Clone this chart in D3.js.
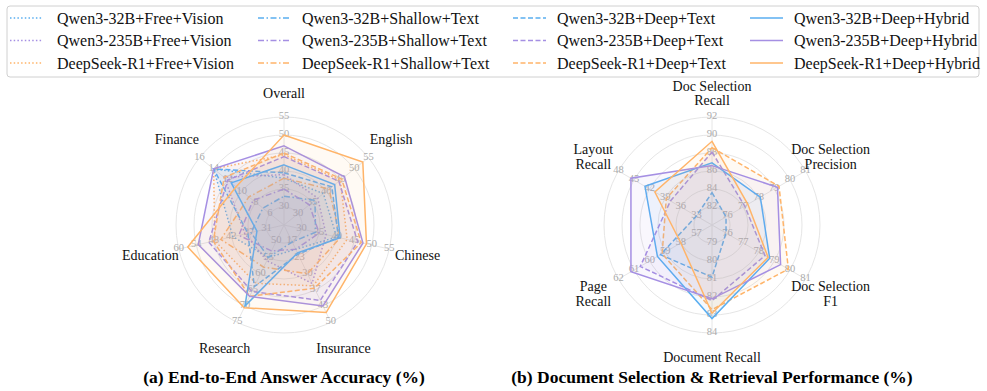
<!DOCTYPE html>
<html>
<head>
<meta charset="utf-8">
<script src="https://cdn.jsdelivr.net/npm/d3@7"></script>
<style>
  body { margin: 0; background: #fff; }
  text { font-family: "Liberation Serif", "Times New Roman", serif; }
</style>
</head>
<body>
<div id="chart"></div>
<script>
// ---- data ----
var seriesNames = [
  "Qwen3-32B+Free+Vision", "Qwen3-235B+Free+Vision", "DeepSeek-R1+Free+Vision",
  "Qwen3-32B+Shallow+Text", "Qwen3-235B+Shallow+Text", "DeepSeek-R1+Shallow+Text",
  "Qwen3-32B+Deep+Text", "Qwen3-235B+Deep+Text", "DeepSeek-R1+Deep+Text",
  "Qwen3-32B+Deep+Hybrid", "Qwen3-235B+Deep+Hybrid", "DeepSeek-R1+Deep+Hybrid"
];

// left radar: end-to-end answer accuracy
var leftAxes = ["Overall", "English", "Chinese", "Insurance", "Research", "Education", "Finance"];
var leftMin = [25, 25, 25, 10, 45, 25, 4];
var leftMax = [55, 55, 55, 50, 75, 60, 16];
var leftTicks = [
  [30, 35, 40, 45, 50, 55], [30, 35, 40, 45, 50, 55], [30, 35, 40, 45, 50, 55],
  [17, 23, 30, 37, 43, 50], [50, 55, 60, 65, 70, 75], [31, 37, 42, 48, 54, 60],
  [6, 8, 10, 12, 14, 16]
];
var q32FreeVision   = [38, 39, 40, 20, 55, 42, 14];
var q235FreeVision  = [39, 37, 37, 34, 56, 38, 12.5];
var dsFreeVision    = [44.5, 45, 43, 35, 63, 48, 14];
var q32ShallowText  = [33, 36, 34, 17, 55, 36, 7];
var q235ShallowText = [35, 34, 35, 20, 53, 40, 8.4];
var dsShallowText   = [38, 41, 41, 30, 58, 46, 9];
var q32DeepText     = [39.5, 42, 40.5, 22, 64, 37, 14];
var q235DeepText    = [44, 44.5, 46, 41, 65.5, 50, 12];
var dsDeepText      = [45, 45.5, 47, 36, 67, 48.5, 12.5];
var q32DeepHybrid   = [41.7, 43, 41, 21.5, 70, 34, 11.5];
var q235DeepHybrid  = [47, 46.5, 47.5, 43.3, 67, 53.5, 14];
var dsDeepHybrid    = [50, 53, 48.5, 46, 70.5, 57, 10.8];

// right radar: document selection & retrieval
var rightAxes = ["Doc Selection\nRecall", "Doc Selection\nPrecision", "Doc Selection\nF1",
                 "Document Recall", "Page\nRecall", "Layout\nRecall"];
var rightMin = [80, 75, 75, 78, 56, 30];
var rightMax = [92, 81, 81, 84, 62, 48];
var rightTicks = [
  [82, 84, 86, 88, 90, 92], [76, 77, 78, 79, 80, 81], [76, 77, 78, 79, 80, 81],
  [79, 80, 81, 82, 83, 84], [57, 58, 59, 60, 61, 62], [33, 36, 39, 42, 45, 48]
];
var q32DeepTextR    = [83.6, 75.9, 75.9, 80.9, 59.3, 33];
var q235DeepTextR   = [88.1, 77.1, 78.4, 82.2, 60.6, 38];
var dsDeepTextR     = [88.6, 79.3, 79.9, 82.7, 59.2, 38.8];
var q32DeepHybridR  = [86.9, 78.1, 78.7, 83.2, 59.5, 42.9];
var q235DeepHybridR = [86.6, 79.2, 79.4, 82.1, 61.2, 45.6];
var dsDeepHybridR   = [89.3, 77.3, 78.6, 82.9, 58, 41];

var leftData = [q32FreeVision, q235FreeVision, dsFreeVision, q32ShallowText, q235ShallowText,
  dsShallowText, q32DeepText, q235DeepText, dsDeepText, q32DeepHybrid, q235DeepHybrid, dsDeepHybrid];
var rightData = [null, null, null, null, null, null,
  q32DeepTextR, q235DeepTextR, dsDeepTextR, q32DeepHybridR, q235DeepHybridR, dsDeepHybridR];

// ---- styles ----
var colors = ["#5aaef0", "#a58fe3", "#ffb469"];
var dashes = ["1.5,2.2", "6,2.5,1.5,2.5", "5,2.5", null];
function seriesColor(i) { return colors[i % 3]; }
function seriesDash(i) { return dashes[Math.floor(i / 3)]; }

var width = 987, height = 391;
var svg = d3.select("#chart").append("svg")
    .attr("width", width)
    .attr("height", height);

// ---- legend ----
var legend = svg.append("g");
legend.append("rect")
    .attr("x", 7).attr("y", 6)
    .attr("width", 972).attr("height", 71)
    .attr("rx", 3)
    .attr("fill", "#fff")
    .attr("stroke", "#d0d0d0");

var legX = [10, 258, 513, 750];
var legTextX = [57, 302, 557, 794];
var legY = [18, 40.5, 63];
seriesNames.forEach(function(name, i) {
  var col = Math.floor(i / 3), row = i % 3;
  legend.append("line")
      .attr("x1", legX[col]).attr("x2", legX[col] + 33)
      .attr("y1", legY[row]).attr("y2", legY[row])
      .attr("stroke", seriesColor(i))
      .attr("stroke-width", 1.5)
      .attr("stroke-dasharray", seriesDash(i));
  legend.append("text")
      .attr("x", legTextX[col]).attr("y", legY[row])
      .attr("dy", "0.35em")
      .attr("font-size", 16)
      .attr("fill", "#111")
      .text(name);
});

// ---- radar ----
function drawRadar(cx, cy, R, axes, mins, maxs, ticks, data) {
  var g = svg.append("g").attr("transform", "translate(" + cx + "," + cy + ")");
  var n = axes.length;
  var angle = function(i) { return i * 2 * Math.PI / n; };
  var scales = axes.map(function(a, i) {
    return d3.scaleLinear().domain([mins[i], maxs[i]]).range([0, R]);
  });

  // grid rings
  d3.range(1, 7).forEach(function(k) {
    g.append("circle")
        .attr("r", R * k / 6)
        .attr("fill", "none")
        .attr("stroke", "#e6e6e6")
        .attr("stroke-width", 1);
  });
  // spokes
  axes.forEach(function(a, i) {
    g.append("line")
        .attr("x1", 0).attr("y1", 0)
        .attr("x2", R * Math.sin(angle(i)))
        .attr("y2", -R * Math.cos(angle(i)))
        .attr("stroke", "#e6e6e6");
  });

  // tick labels
  axes.forEach(function(a, i) {
    ticks[i].forEach(function(t, k) {
      var r = R * (k + 1) / 6;
      g.append("text")
          .attr("x", r * Math.sin(angle(i)))
          .attr("y", -r * Math.cos(angle(i)) - 1.5)
          .attr("dy", "0.35em")
          .attr("text-anchor", "middle")
          .attr("font-size", 10.5)
          .attr("fill", "#ababab")
          .text(t);
    });
  });

  // polygons
  var line = d3.line().curve(d3.curveLinearClosed);
  data.forEach(function(vals, s) {
    if (!vals) return;
    var pts = vals.map(function(v, i) {
      var r = scales[i](v);
      return [r * Math.sin(angle(i)), -r * Math.cos(angle(i))];
    });
    g.append("path")
        .attr("d", line(pts))
        .attr("fill", seriesColor(s))
        .attr("fill-opacity", 0.07)
        .attr("stroke", seriesColor(s))
        .attr("stroke-width", 1.5)
        .attr("stroke-linejoin", "miter")
        .attr("stroke-dasharray", seriesDash(s));
  });

  // axis labels
  axes.forEach(function(a, i) {
    var s = Math.sin(angle(i)), c = Math.cos(angle(i));
    var lr = Math.abs(s) > 0.3 ? 137 : 132;
    var lines = a.split("\n");
    var t = g.append("text")
        .attr("text-anchor", "middle")
        .attr("font-size", 14)
        .attr("fill", "#111")
        .attr("transform", "translate(" + (lr * s) + "," + (-lr * c) + ")");
    lines.forEach(function(l, j) {
      t.append("tspan")
          .attr("x", 0)
          .attr("y", (j - (lines.length - 1) / 2) * 14.5)
          .attr("dy", "0.35em")
          .text(l);
    });
  });
  return g;
}

drawRadar(284, 225, 108, leftAxes, leftMin, leftMax, leftTicks, leftData);
drawRadar(712, 225, 108, rightAxes, rightMin, rightMax, rightTicks, rightData);

// ---- titles ----
svg.append("text")
    .attr("x", 284).attr("y", 377).attr("dy", "0.35em")
    .attr("text-anchor", "middle")
    .attr("font-size", 17.5).attr("font-weight", "bold")
    .text("(a) End-to-End Answer Accuracy (%)");
svg.append("text")
    .attr("x", 712).attr("y", 377).attr("dy", "0.35em")
    .attr("text-anchor", "middle")
    .attr("font-size", 17.5).attr("font-weight", "bold")
    .text("(b) Document Selection & Retrieval Performance (%)");
</script>
</body>
</html>
